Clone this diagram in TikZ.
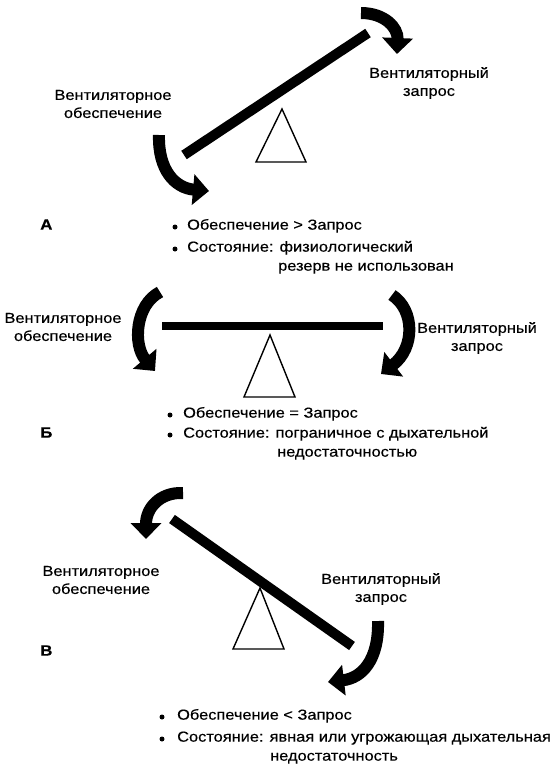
\documentclass[tikz,border=0pt]{standalone}
\usepackage{fontspec}
\setmainfont[FakeStretch=1.13,FakeBold=0.4]{Liberation Sans}
\usetikzlibrary{arrows.meta}
\begin{document}
\begin{tikzpicture}[x=1pt,y=-1pt,
  lbl/.style={font=\fontsize{14.5}{18}\selectfont, align=center, inner sep=0},
  txt/.style={font=\fontsize{14.5}{18}\selectfont, anchor=mid west, inner sep=0},
  panel/.style={font=\fontsize{15}{18}\selectfont\bfseries, anchor=mid west, inner sep=0},
  beam/.style={line width=10pt},
  fulcrum/.style={line width=1.4pt, line join=miter},
  bigarrow/.style={line width=12pt, -{Triangle[length=16pt,width=30pt]}},
  dot/.style={circle, fill, inner sep=0, minimum size=5pt}]
\useasboundingbox (0,0) rectangle (556,774);

% ---------- Panel A ----------
\coordinate (a1) at (184,155);
\coordinate (a2) at (368,33);
\draw[beam] (a1) -- (a2);
\draw[fulcrum] (282,109) -- (306,162) -- (256,162) -- cycle;
\draw[bigarrow] (361,13) .. controls (385,13) and (398,28) .. (397,54);
\draw[bigarrow] (159,135) .. controls (158,170) and (175,188) .. (209,191);
\node[lbl] (aL) at (113,104) {Вентиляторное\\обеспечение};
\node[lbl] (aR) at (429,83) {Вентиляторный\\запрос};
\node[panel] (aP) at (40,227) {А};
\node[dot] (ab1) at (175,227) {};
\node[txt] (at1) at (187,227) {Обеспечение > Запрос};
\node[dot] (ab2) at (175,249) {};
\node[txt] (at2) at (187,249) {Состояние: физиологический};
\node[txt] (at3) at (278,268) {резерв не использован};

% ---------- Panel B ----------
\coordinate (b1) at (162,326);
\coordinate (b2) at (383,326);
\draw[line width=8pt] (b1) -- (b2);
\draw[fulcrum] (270,335) -- (295,397) -- (244,397) -- cycle;
\draw[bigarrow] (160,292) .. controls (135,305) and (133,345) .. (155,371);
\draw[bigarrow] (392,295) .. controls (415,310) and (415,348) .. (381,374);
\node[lbl] (bL) at (63,327) {Вентиляторное\\обеспечение};
\node[lbl] (bR) at (477,338) {Вентиляторный\\запрос};
\node[panel] (bP) at (40,435) {Б};
\node[dot] (bb1) at (170,415) {};
\node[txt] (bt1) at (183,415) {Обеспечение = Запрос};
\node[dot] (bb2) at (170,435) {};
\node[txt] (bt2) at (183,435) {Состояние: пограничное с дыхательной};
\node[txt] (bt3) at (277,454) {недостаточностью};

% ---------- Panel C ----------
\coordinate (c1) at (172,519);
\coordinate (c2) at (352,646);
\draw[beam] (c1) -- (c2);
\draw[fulcrum] (260,588) -- (284,649) -- (233,649) -- cycle;
\draw[bigarrow] (183,493) .. controls (160,492) and (146,508) .. (146,539);
\draw[bigarrow] (378,621) .. controls (379,660) and (362,678) .. (328,682);
\node[lbl] (cL) at (101,580) {Вентиляторное\\обеспечение};
\node[lbl] (cR) at (381,589) {Вентиляторный\\запрос};
\node[panel] (cP) at (40,653) {В};
\node[dot] (cb1) at (162,717) {};
\node[txt] (ct1) at (177,717) {Обеспечение < Запрос};
\node[dot] (cb2) at (162,739) {};
\node[txt] (ct2) at (177,739) {Состояние: явная или угрожающая дыхательная};
\node[txt] (ct3) at (270,758) {недостаточность};
\end{tikzpicture}
\end{document}
